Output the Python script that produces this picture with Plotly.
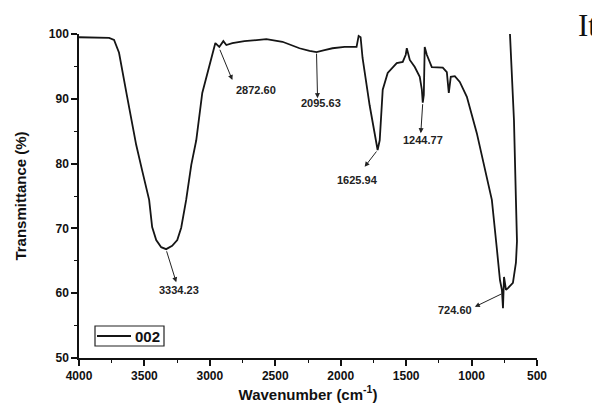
import plotly.graph_objects as go

# Spectrum trace (wavenumber cm^-1, transmittance %)
wavenumber = [4000, 3847, 3770, 3732, 3694, 3632, 3563, 3518, 3464, 3441, 3410, 3372,
              3334, 3288, 3249, 3219, 3196, 3181, 3142, 3104, 3058, 3027, 3004, 2981,
              2958, 2928, 2897, 2874, 2828, 2736, 2644, 2568, 2445, 2315, 2238, 2185,
              2124, 2063, 1970, 1879, 1863, 1848, 1833, 1779, 1718, 1702, 1679, 1641,
              1572, 1526, 1503, 1495, 1472, 1434, 1396, 1380, 1373, 1365, 1358, 1342,
              1304, 1220, 1189, 1174, 1159, 1128, 1090, 1036, 960, 883, 845, 806,
              783, 768, 760, 752, 737, 722, 684, 661, 653, 661, 676, 707]
transmittance = [99.5, 99.5, 99.4, 99.1, 97.1, 90.3, 82.9, 79.0, 74.4, 70.2, 68.2, 67.1,
                 66.8, 67.3, 68.2, 70.1, 72.8, 74.4, 79.8, 83.6, 90.9, 93.4, 94.8, 97.1,
                 98.6, 98.0, 98.9, 98.3, 98.6, 98.9, 99.1, 99.2, 98.8, 97.8, 97.4, 97.2,
                 97.5, 97.8, 98.0, 98.0, 99.7, 99.5, 96.3, 89.0, 82.1, 83.6, 91.4, 94.0,
                 95.5, 95.7, 96.8, 97.8, 96.0, 94.9, 93.4, 91.4, 89.4, 90.6, 98.0, 96.8,
                 94.9, 94.8, 94.1, 90.9, 93.4, 93.5, 92.6, 90.3, 84.7, 77.5, 74.4, 66.7,
                 62.0, 60.5, 57.7, 62.5, 60.5, 60.8, 61.6, 64.7, 68.0, 74.4, 86.7, 100.2]

series_name = "002"

# Peak labels: text, curve point (tail), arrow tip, label centre
peak_labels = ["2872.60", "2095.63", "1625.94", "1244.77", "3334.23", "724.60"]
tail_x = [2928, 2185, 1718, 1373, 3334, 760]
tail_y = [97.8, 97.2, 82.1, 89.4, 66.7, 60.0]
head_x = [2828, 2177, 1817, 1388, 3257, 975]
head_y = [92.9, 90.1, 79.5, 84.7, 61.7, 57.9]
label_x = [2644, 2154, 1871, 1373, 3234, 1128]
label_y = [91.4, 89.4, 77.5, 83.6, 60.5, 57.4]

x_ticks = [4000, 3500, 3000, 2500, 2000, 1500, 1000, 500]
y_ticks = [50, 60, 70, 80, 90, 100]

FONT = "Liberation Sans, Arial"
INK = "#151515"

# the page body has an 8px margin, so the figure is placed at (8, 8) on the page
OFF = 8
FW, FH = 600 - OFF, 403 - OFF
# plot area in page pixels: x 79..537, y 34..358
L, R, T, B = 79, 537, 34, 358
W, H = R - L, B - T


def px(xp):
    return (xp - L) / W


def py(yp):
    return (B - yp) / H


fig = go.Figure()
fig.add_trace(go.Scatter(x=wavenumber, y=transmittance, mode="lines", name=series_name,
                         showlegend=False, line=dict(color=INK, width=1.8)))

ann = []
for t, tx, ty, hx, hy, lx, ly in zip(peak_labels, tail_x, tail_y, head_x, head_y, label_x, label_y):
    ann.append(dict(x=hx, y=hy, ax=tx, ay=ty, xref="x", yref="y", axref="x", ayref="y",
                    text="", showarrow=True, arrowhead=2, arrowsize=1, arrowwidth=1,
                    arrowcolor="#222"))
    ann.append(dict(x=lx, y=ly, xref="x", yref="y", text="<b>" + t + "</b>", showarrow=False,
                    font=dict(family=FONT, size=11, color="#222"),
                    xanchor="center", yanchor="middle"))

# stray text from the surrounding page
ann.append(dict(x=px(587), y=py(26), xref="paper", yref="paper", text="It", showarrow=False,
                xanchor="center", yanchor="middle",
                font=dict(family="Liberation Serif, Times New Roman", size=31, color="#111")))

# legend box drawn by hand
ann.append(dict(x=px(133), y=py(336), xref="paper", yref="paper",
                text="<b>" + series_name + "</b>", showarrow=False,
                xanchor="left", yanchor="middle",
                font=dict(family=FONT, size=15, color="#111")))
shapes = [
    dict(type="rect", xref="paper", yref="paper", x0=px(95), x1=px(164), y0=py(326), y1=py(346),
         line=dict(color="#222", width=1.2)),
    dict(type="line", xref="paper", yref="paper", x0=px(97), x1=px(131), y0=py(336), y1=py(336),
         line=dict(color=INK, width=1.8)),
]

fig.update_layout(
    annotations=ann, shapes=shapes,
    width=FW, height=FH,
    margin=dict(l=L - OFF, r=FW - (R - OFF), t=T - OFF, b=FH - (B - OFF)),
    paper_bgcolor="white", plot_bgcolor="white",
    font=dict(family=FONT, color="#111"),
    showlegend=False,
    xaxis=dict(range=[4000, 500], tickvals=x_ticks, ticktext=["<b>%d</b>" % v for v in x_ticks],
               showline=True, linecolor="#111", linewidth=1.5, mirror=False,
               ticks="outside", ticklen=6, tickwidth=1.5, tickcolor="#111",
               minor=dict(dtick=250, ticks="outside", ticklen=3, tickwidth=1.2, tickcolor="#111"),
               showgrid=False, zeroline=False, automargin=False,
               tickfont=dict(size=12, family=FONT, color="#111"),
               title=dict(text="<b>Wavenumber (cm<sup>-1</sup>)</b>", standoff=7,
                          font=dict(size=15, color="#111"))),
    yaxis=dict(range=[50, 100], tickvals=y_ticks, ticktext=["<b>%d</b>" % v for v in y_ticks],
               showline=True, linecolor="#111", linewidth=1.5, mirror=False,
               ticks="outside", ticklen=6, tickwidth=1.5, tickcolor="#111",
               minor=dict(dtick=5, ticks="outside", ticklen=3, tickwidth=1.2, tickcolor="#111"),
               showgrid=False, zeroline=False, automargin=False,
               tickfont=dict(size=12, family=FONT, color="#111"),
               title=dict(text="<b>Transmittance (%)</b>", standoff=19,
                          font=dict(size=15, color="#111"))),
)

fig.write_html("out.html")
